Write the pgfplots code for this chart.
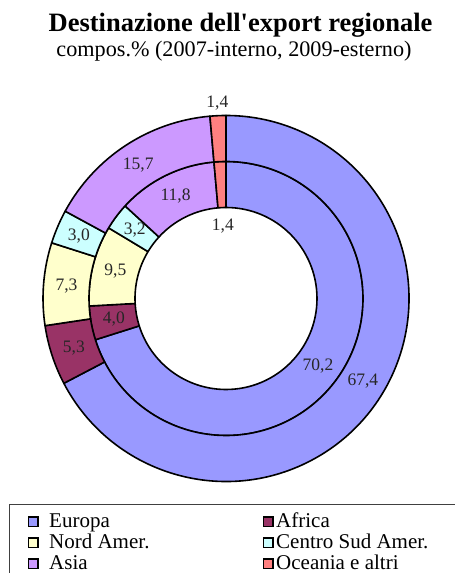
\documentclass[border=0pt]{standalone}
\usepackage{fontspec}
\setmainfont{Liberation Serif}
\usepackage{pgfplots}
\usepackage{pgfplotstable}
\pgfplotsset{compat=1.18}
\usetikzlibrary{calc}

\definecolor{c0}{HTML}{9999FF}
\definecolor{c1}{HTML}{993366}
\definecolor{c2}{HTML}{FFFFCC}
\definecolor{c3}{HTML}{CCFFFF}
\definecolor{c4}{HTML}{CC99FF}
\definecolor{c5}{HTML}{FF8080}

% 2007 = inner ring, 2009 = outer ring
\pgfplotstableread{
name v07 v09
Europa 70.2 67.4
Africa 4.0 5.3
NordAmer 9.5 7.3
CentroSudAmer 3.2 3.0
Asia 11.8 15.7
Oceania 1.4 1.4
}\datatable

\begin{document}
\begin{tikzpicture}
% ---- totals
\gdef\sumA{0}\gdef\sumB{0}
\foreach \i in {0,...,5}{%
  \pgfplotstablegetelem{\i}{v07}\of\datatable
  \pgfmathsetmacro\t{\sumA+\pgfplotsretval}\xdef\sumA{\t}%
  \pgfplotstablegetelem{\i}{v09}\of\datatable
  \pgfmathsetmacro\t{\sumB+\pgfplotsretval}\xdef\sumB{\t}%
}
% ---- angles and label positions
\gdef\cumA{0}\gdef\cumB{0}
\foreach \i in {0,...,5}{%
  \pgfplotstablegetelem{\i}{v07}\of\datatable\let\val\pgfplotsretval
  \pgfmathsetmacro\s{90-(\cumA/\sumA)*360}%
  \pgfmathsetmacro\t{\cumA+\val}\xdef\cumA{\t}%
  \pgfmathsetmacro\e{90-(\cumA/\sumA)*360}%
  \pgfmathsetmacro\m{(\s+\e)/2}%
  \ifnum\i=5 \def\r{72}\else\def\r{114}\fi
  \pgfmathsetmacro\lx{226+\r*cos(\m)}%
  \pgfmathsetmacro\ly{274.5+\r*sin(\m)}%
  \expandafter\xdef\csname sA\i\endcsname{\s}%
  \expandafter\xdef\csname eA\i\endcsname{\e}%
  \expandafter\xdef\csname lxA\i\endcsname{\lx}%
  \expandafter\xdef\csname lyA\i\endcsname{\ly}%
  \expandafter\xdef\csname vA\i\endcsname{\val}%
  \pgfplotstablegetelem{\i}{v09}\of\datatable\let\val\pgfplotsretval
  \pgfmathsetmacro\s{90-(\cumB/\sumB)*360}%
  \pgfmathsetmacro\t{\cumB+\val}\xdef\cumB{\t}%
  \pgfmathsetmacro\e{90-(\cumB/\sumB)*360}%
  \pgfmathsetmacro\m{(\s+\e)/2}%
  \ifnum\i=5 \def\r{196}\else\def\r{160}\fi
  \pgfmathsetmacro\lx{226+\r*cos(\m)}%
  \pgfmathsetmacro\ly{274.5+\r*sin(\m)}%
  \expandafter\xdef\csname sB\i\endcsname{\s}%
  \expandafter\xdef\csname eB\i\endcsname{\e}%
  \expandafter\xdef\csname lxB\i\endcsname{\lx}%
  \expandafter\xdef\csname lyB\i\endcsname{\ly}%
  \expandafter\xdef\csname vB\i\endcsname{\val}%
}
\begin{axis}[x=1pt,y=1pt,xmin=0,xmax=455,ymin=0,ymax=573,
  hide axis, at={(0,0)}, anchor=south west, clip=true]
% ---- rings
\pgfplotsinvokeforeach{0,...,5}{%
  \filldraw[fill=c#1, draw=black, line width=1.6pt, line join=round,
            shift={(axis cs:226,274.5)}]
    (\csname sA#1\endcsname:91pt)
      arc[start angle=\csname sA#1\endcsname, end angle=\csname eA#1\endcsname, radius=91pt]
    -- (\csname eA#1\endcsname:137pt)
      arc[start angle=\csname eA#1\endcsname, end angle=\csname sA#1\endcsname, radius=137pt]
    -- cycle;
  \filldraw[fill=c#1, draw=black, line width=1.6pt, line join=round,
            shift={(axis cs:226,274.5)}]
    (\csname sB#1\endcsname:137pt)
      arc[start angle=\csname sB#1\endcsname, end angle=\csname eB#1\endcsname, radius=137pt]
    -- (\csname eB#1\endcsname:183pt)
      arc[start angle=\csname eB#1\endcsname, end angle=\csname sB#1\endcsname, radius=183pt]
    -- cycle;
}
\pgfplotsinvokeforeach{0,...,5}{%
  \node[text=black!85, font=\fontsize{17.5}{19}\selectfont, inner sep=0pt]
    at (axis cs:\csname lxA#1\endcsname,\csname lyA#1\endcsname)
    {\pgfmathprintnumber[fixed,fixed zerofill,precision=1,use comma,assume math mode=true]{\csname vA#1\endcsname}};
  \node[text=black!85, font=\fontsize{17.5}{19}\selectfont, inner sep=0pt]
    at (axis cs:\csname lxB#1\endcsname,\csname lyB#1\endcsname)
    {\pgfmathprintnumber[fixed,fixed zerofill,precision=1,use comma,assume math mode=true]{\csname vB#1\endcsname}};
}
% ---- titles
\node[anchor=base, font=\bfseries\fontsize{26.5}{30}\selectfont] at (axis cs:240.5,541.5)
  {Destinazione dell\textquotesingle export regionale};
\node[anchor=base, font=\fontsize{22.2}{26}\selectfont] at (axis cs:234,516)
  {compos.\% (2007-interno, 2009-esterno)};
% ---- legend
\draw[draw=black!75, line width=1pt] (axis cs:9,68) rectangle (axis cs:470,-10);
\filldraw[fill=c0, draw=black, line width=1.4pt] (axis cs:28.5,46.5) rectangle (axis cs:38,56);
\filldraw[fill=c2, draw=black, line width=1.4pt] (axis cs:28.5,25.5) rectangle (axis cs:38,35);
\filldraw[fill=c4, draw=black, line width=1.4pt] (axis cs:28.5,4.5) rectangle (axis cs:38,14);
\filldraw[fill=c1, draw=black, line width=1.4pt] (axis cs:263.5,46.5) rectangle (axis cs:273,56);
\filldraw[fill=c3, draw=black, line width=1.4pt] (axis cs:263.5,25.5) rectangle (axis cs:273,35);
\filldraw[fill=c5, draw=black, line width=1.4pt] (axis cs:263.5,4.5) rectangle (axis cs:273,14);
\begin{scope}[every node/.style={anchor=base west, inner sep=0pt, font=\fontsize{21}{22}\selectfont}]
\node at (axis cs:49,45.5) {Europa};
\node at (axis cs:49,24.5) {Nord Amer.};
\node at (axis cs:49,3.5) {Asia};
\node at (axis cs:276,45.5) {Africa};
\node at (axis cs:276,24.5) {Centro Sud Amer.};
\node at (axis cs:276,3.5) {Oceania e altri};
\end{scope}
\end{axis}
\pgfresetboundingbox
\useasboundingbox (0,0) rectangle (455pt,573pt);
\end{tikzpicture}
\end{document}
